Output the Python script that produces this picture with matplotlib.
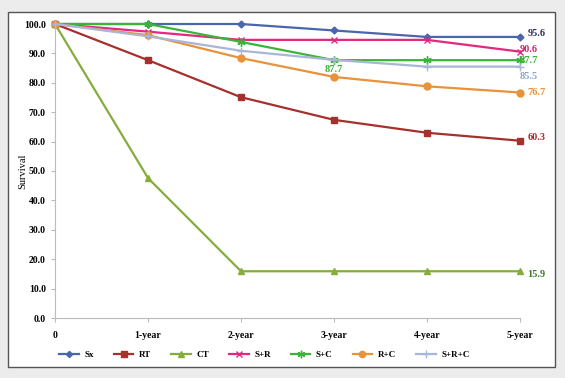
import matplotlib.pyplot as plt
from matplotlib.patches import Rectangle

plt.rcParams['font.family'] = ['Liberation Serif', 'DejaVu Serif']
plt.rcParams['font.weight'] = 'bold'

xlabels = ['0', '1-year', '2-year', '3-year', '4-year', '5-year']
names = ['Sx', 'RT', 'CT', 'S+R', 'S+C', 'R+C', 'S+R+C']
sx = [100, 100, 100, 97.8, 95.6, 95.6]
rt = [100, 87.7, 75.1, 67.4, 63.0, 60.3]
ct = [100, 47.6, 15.9, 15.9, 15.9, 15.9]
sr = [100, 97.4, 94.6, 94.6, 94.6, 90.6]
sc = [100, 100, 93.9, 87.7, 87.7, 87.7]
rc = [100, 96.2, 88.4, 82.0, 78.8, 76.7]
src = [100, 95.8, 90.9, 87.8, 85.5, 85.5]
series = [sx, rt, ct, sr, sc, rc, src]

colors = ['#4a66ac', '#a5302c', '#86ac3c', '#e2297c', '#3cb43c', '#e8923a', '#a8b6d8']
markers = ['D', 's', '^', 'x', (6, 2, 0), 'o', '+']
msizes = [3.5, 5, 5, 5, 6, 5, 6]
label_colors = ['#2e2b70', '#a5302c', '#3c7a2a', '#d0246e', '#3cb43c', '#e8923a', '#8fa4cc']

fig = plt.figure(figsize=(5.65, 3.78), dpi=100, facecolor='#ececec')
fig.patches.append(Rectangle((8 / 565, 1 - 367 / 378), 547 / 565, 355 / 378,
                             transform=fig.transFigure, facecolor='white',
                             edgecolor='#555555', linewidth=1.0, zorder=-5))
ax = fig.add_axes([55 / 565, 1 - 318 / 378, 465 / 565, 294 / 378])
ax.set_facecolor('white')

x = list(range(len(xlabels)))
for i in range(len(names)):
    ax.plot(x, series[i], color=colors[i], marker=markers[i], markersize=msizes[i],
            linewidth=1.6, label=names[i], markeredgewidth=1.0, clip_on=False)

# end labels
ax.text(5.08, sx[5] + 1.2, '95.6', color=label_colors[0], fontsize=7.5, va='center')
ax.text(5.0, sr[5] + 0.6, '90.6', color=label_colors[3], fontsize=7.5, va='center')
ax.text(5.0, sc[5] - 0.2, '87.7', color=label_colors[4], fontsize=7.5, va='center')
ax.text(5.0, src[5] - 3.2, '85.5', color=label_colors[6], fontsize=7.5, va='center')
ax.text(5.08, rc[5], '76.7', color=label_colors[5], fontsize=7.5, va='center')
ax.text(5.08, rt[5] + 1.0, '60.3', color=label_colors[1], fontsize=7.5, va='center')
ax.text(5.08, ct[5] - 1.2, '15.9', color=label_colors[2], fontsize=7.5, va='center')
ax.text(3.0, sc[3] - 3.2, '87.7', color=label_colors[4], fontsize=7.5, ha='center', va='center')

ax.set_xlim(0, 5)
ax.set_ylim(0, 100)
ax.set_xticks(x)
ax.set_xticklabels(xlabels)
ax.set_yticks(range(0, 101, 10))
ax.set_yticklabels(['%.1f' % v for v in range(0, 101, 10)])
ax.tick_params(labelsize=7, length=3, color='#bbbbbb', direction='out')
ax.tick_params(axis='x', pad=6)
for s in ['top', 'right']:
    ax.spines[s].set_visible(False)
for s in ['left', 'bottom']:
    ax.spines[s].set_color('#bbbbbb')
ax.set_ylabel('Survival', fontsize=7.5)
ax.yaxis.set_label_coords(-0.06, 0.5)

ax.legend(loc='upper center', bbox_to_anchor=(0.45, -0.085), ncol=7, frameon=False,
          fontsize=6.5, handlelength=2.2, handletextpad=0.6, columnspacing=2.2,
          markerscale=0.9)

fig.savefig('out.png', dpi=100, facecolor=fig.get_facecolor())
